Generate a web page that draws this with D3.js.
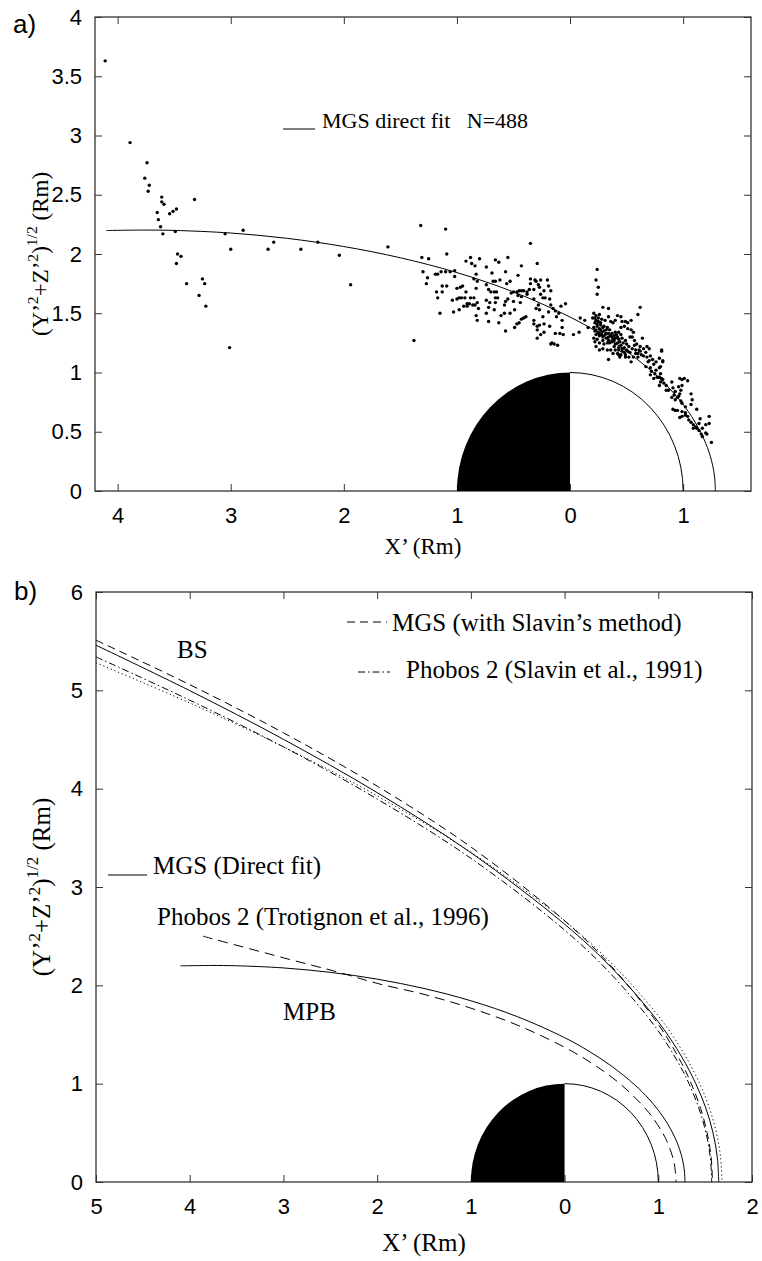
<!DOCTYPE html>
<html>
<head>
<meta charset="utf-8">
<script src="https://cdn.jsdelivr.net/npm/d3@7"></script>
<style>
body { margin: 0; background: #fff; }
.tick text { font-family: "Liberation Sans", Arial, sans-serif; font-size: 22px; fill: #000; }
.serif { font-family: "Liberation Serif", "Times New Roman", serif; fill: #000; }
.sans { font-family: "Liberation Sans", Arial, sans-serif; fill: #000; }
</style>
</head>
<body>
<div id="chart"></div>
<script>
// Datos (X', (Y'^2+Z'^2)^1/2 en Rm)

// cruces MPB de MGS, cola
const crossingsTail = [[-4.11,3.63],[-3.89,2.94],[-3.74,2.77],[-3.76,2.64],[-3.72,2.58],[-3.73,2.53],[-3.61,2.48],[-3.61,2.44],
  [-3.59,2.42],[-3.65,2.35],[-3.54,2.34],[-3.51,2.36],[-3.48,2.38],[-3.64,2.29],[-3.62,2.23],[-3.60,2.17],[-3.49,2.19],
  [-3.32,2.46],[-3.47,2.00],[-3.44,1.98],[-3.48,1.92],[-3.39,1.75],[-3.25,1.79],[-3.23,1.75],[-3.28,1.65],[-3.22,1.56],
  [-3.01,1.21],[-3.05,2.17],[-3.00,2.04],[-2.89,2.20],[-2.67,2.04],[-2.62,2.10],[-2.38,2.04],[-2.23,2.10],[-2.04,1.99],
  [-1.94,1.74],[-1.61,2.06]]

// cruces MPB, flanco
const crossingsFlank = [[-1.32,2.24],[-1.10,2.21],[-1.38,1.27],[-1.09,2.00],[-1.31,1.97],[-1.25,1.96],[-1.30,1.85],[-1.26,1.80],
  [-1.27,1.75],[-1.19,1.83],[-1.17,1.83],[-1.14,1.85],[-1.10,1.85],[-1.06,1.85],[-1.02,1.86],[-1.02,1.81],[-1.13,1.73],
  [-1.09,1.73],[-1.18,1.68],[-1.13,1.68],[-1.17,1.63],[-1.15,1.50],[-1.03,1.51],[-1.00,1.71],[-0.97,1.72],[-0.95,1.73],
  [-0.92,1.68],[-1.04,1.61],[-1.00,1.62],[-0.98,1.63],[-0.96,1.63],[-0.93,1.63],[-0.88,1.63],[-0.85,1.63],[-0.98,1.53],
  [-0.94,1.56],[-0.91,1.58],[-0.89,1.58],[-0.91,1.56],[-0.86,1.57],[-0.84,1.57],[-0.82,1.59],[-0.81,1.54],[-0.83,1.48],
  [-0.82,1.44],[-0.92,1.94],[-0.88,1.97],[-0.87,1.92],[-0.84,1.90],[-0.80,1.96],[-0.83,1.83],[-0.85,1.79],[-0.82,1.77],
  [-0.83,1.71],[-0.74,1.89],[-0.69,1.84],[-0.66,1.95],[-0.74,1.74],[-0.72,1.70],[-0.68,1.77],[-0.66,1.77],[-0.70,1.68],
  [-0.67,1.68],[-0.65,1.68],[-0.66,1.63],[-0.64,1.63],[-0.74,1.61],[-0.71,1.59],[-0.66,1.59],[-0.72,1.55],[-0.67,1.53],
  [-0.74,1.50],[-0.72,1.43],[-0.63,1.42],
  [-0.35,2.09],[-0.55,1.97],[-0.63,1.93],[-0.43,1.90],[-0.29,1.92],[-0.57,1.85],[-0.46,1.82],[-0.62,1.78],[-0.56,1.75],
  [-0.53,1.77],[-0.61,1.48],[-0.58,1.50],[-0.53,1.50],[-0.57,1.35],[-0.52,1.67],[-0.50,1.68],[-0.47,1.68],[-0.45,1.69],
  [-0.43,1.69],[-0.41,1.69],[-0.38,1.68],[-0.36,1.70],[-0.46,1.65],[-0.43,1.64],[-0.38,1.66],[-0.35,1.79],[-0.35,1.75],
  [-0.31,1.78],[-0.30,1.77],[-0.28,1.74],[-0.26,1.78],[-0.27,1.72],[-0.32,1.70],[-0.23,1.69],[-0.20,1.78],[-0.19,1.73],
  [-0.17,1.69],[-0.26,1.66],[-0.24,1.63],[-0.22,1.63],[-0.18,1.62],[-0.55,1.62],[-0.57,1.60],[-0.58,1.57],[-0.50,1.60],
  [-0.44,1.59],[-0.49,1.53],[-0.32,1.62],[-0.28,1.57],[-0.30,1.54],[-0.27,1.53],[-0.19,1.51],[-0.17,1.57],[-0.15,1.54],
  [-0.13,1.52],[-0.10,1.50],[-0.12,1.47],[-0.08,1.56],[-0.04,1.58],[-0.24,1.47],[-0.39,1.47],[-0.41,1.46],[-0.43,1.45],
  [-0.45,1.42],[-0.47,1.41],[-0.49,1.38],[-0.32,1.44],[-0.32,1.41],[-0.29,1.39],[-0.27,1.40],[-0.23,1.41],[-0.18,1.39],
  [-0.29,1.36],[-0.26,1.32],[-0.23,1.34],[-0.29,1.29],[-0.13,1.33],[-0.09,1.33],[-0.06,1.32],[-0.07,1.38],[-0.07,1.44],
  [-0.16,1.25],[-0.17,1.24],[-0.14,1.24],[-0.11,1.23],[0.03,1.32],[0.08,1.34],[0.09,1.46],[0.13,1.44],[0.16,1.38]]

// cruces MPB, nariz
const crossingsNose = [[0.24,1.87],[0.23,1.78],[0.25,1.72],[0.24,1.66],[0.29,1.55],[0.34,1.54],[0.62,1.55],[0.60,1.49],
  [0.21,1.50],[0.23,1.48],[0.26,1.49],[0.20,1.46],[0.23,1.44],[0.25,1.43],[0.22,1.42],[0.27,1.42],[0.21,1.38],[0.24,1.39],
  [0.26,1.37],[0.29,1.38],[0.22,1.35],[0.25,1.34],[0.28,1.34],[0.23,1.32],[0.26,1.31],[0.29,1.30],[0.21,1.29],[0.24,1.28],
  [0.29,1.27],[0.32,1.29],[0.34,1.27],[0.22,1.26],[0.26,1.25],[0.30,1.24],[0.33,1.25],[0.37,1.26],[0.39,1.27],[0.40,1.29],
  [0.31,1.44],[0.34,1.47],[0.36,1.43],[0.38,1.42],[0.40,1.44],[0.42,1.48],[0.45,1.47],[0.46,1.43],[0.49,1.43],[0.51,1.42],
  [0.54,1.44],[0.48,1.39],[0.51,1.37],[0.54,1.36],[0.56,1.34],[0.45,1.38],[0.43,1.34],[0.40,1.34],[0.37,1.33],[0.35,1.36],
  [0.33,1.38],[0.32,1.33],[0.34,1.30],[0.37,1.30],[0.42,1.30],[0.45,1.32],[0.46,1.29],[0.49,1.27],[0.53,1.30],[0.57,1.27],
  [0.42,1.25],[0.45,1.23],[0.46,1.20],[0.43,1.19],[0.42,1.16],[0.45,1.15],[0.48,1.17],[0.51,1.18],[0.39,1.22],[0.36,1.19],
  [0.33,1.19],[0.29,1.20],[0.26,1.19],[0.52,1.22],[0.57,1.23],[0.59,1.24],[0.62,1.22],[0.64,1.29],[0.65,1.20],[0.68,1.22],
  [0.70,1.20],[0.67,1.17],[0.61,1.19],[0.58,1.16],[0.56,1.13],[0.54,1.09],[0.60,1.13],[0.63,1.15],[0.81,1.19],[0.79,1.12],
  [0.82,1.10],[0.71,1.14],[0.73,1.11],[0.69,1.09],[0.67,1.05],[0.71,1.04],[0.76,1.02],[0.79,1.04],[0.80,0.99],[0.77,0.96],
  [0.71,0.98],[0.74,0.95],[0.78,0.96],
  [0.22,1.46],[0.25,1.46],[0.28,1.45],[0.24,1.41],[0.27,1.40],[0.30,1.39],[0.23,1.36],[0.27,1.36],[0.30,1.35],[0.32,1.36],
  [0.25,1.33],[0.28,1.32],[0.31,1.32],[0.34,1.33],[0.36,1.31],[0.39,1.31],[0.41,1.32],[0.43,1.28],[0.38,1.28],[0.35,1.25],
  [0.40,1.24],[0.44,1.26],[0.47,1.25],[0.50,1.24],[0.48,1.21],[0.43,1.21],[0.46,1.18],[0.50,1.19],[0.53,1.17],[0.40,1.19],
  [0.38,1.16],[0.44,1.13],[0.49,1.15],[0.55,1.20],[0.58,1.19],[0.52,1.13],[0.60,1.16],[0.62,1.18],[0.65,1.14],[0.68,1.13],
  [0.70,1.10],[0.74,1.07],[0.76,1.09],[0.72,1.01],[0.75,0.99],[0.34,1.11],[0.43,1.15],[0.49,1.13],[0.23,1.22],[0.55,1.30],
  [0.81,1.18],[0.82,1.09],[0.80,1.05],[0.79,0.96],[0.81,0.95],[0.82,0.94],[0.80,0.92],[0.83,0.91],[0.85,0.89],[0.79,0.89],
  [0.90,0.92],[0.87,0.85],[0.85,0.85],[0.91,0.87],[0.93,0.84],[0.92,0.81],[0.90,0.79],[0.95,0.79],[0.93,0.77],[0.96,0.80],
  [0.97,0.82],[0.98,0.85],[0.96,0.88],[0.99,0.89],[0.99,0.94],[0.97,0.95],[1.01,0.95],[1.04,0.93],[0.98,0.76],[0.99,0.74],
  [1.02,0.71],[1.07,0.73],[1.08,0.77],[1.07,0.82],[1.04,0.63],[1.02,0.66],[0.99,0.67],[1.02,0.64],[0.99,0.63],[0.97,0.62],
  [0.93,0.68],[0.91,0.69],[0.95,0.68],[1.12,0.69],[1.05,0.60],[1.07,0.58],[1.09,0.56],[1.11,0.54],[1.12,0.53],[1.09,0.53],
  [1.14,0.57],[1.15,0.61],[1.17,0.53],[1.20,0.56],[1.23,0.63],[1.23,0.57],[1.21,0.48],[1.14,0.51],[1.16,0.48],[1.17,0.46],
  [1.25,0.41],[1.20,0.49]]

// MPB, ajuste directo MGS
const mpbFitX = [-4.1, -3.77, -3.5, -3, -2.5, -2, -1.5, -1, -0.5, 0, 0.25, 0.5, 0.75, 0.9, 1, 1.1, 1.2, 1.25, 1.27, 1.28, 1.285]
const mpbFitY = [2.198, 2.202, 2.199, 2.177, 2.132, 2.063, 1.968, 1.843, 1.68, 1.468, 1.336, 1.179, 0.987, 0.844, 0.73, 0.591, 0.403, 0.26, 0.171, 0.1, 0]

// MPB, Phobos 2 (Trotignon et al., 1996)
const mpbPhobosX = [-3.86, -3.0, -2.4, -2.0, -1.5, -1.0, -0.5, 0, 0.3, 0.6, 0.9, 1.05, 1.1, 1.15, 1.175, 1.19]
const mpbPhobosY = [2.5, 2.28, 2.13, 2.02, 1.908, 1.768, 1.594, 1.37, 1.202, 0.992, 0.705, 0.493, 0.396, 0.265, 0.162, 0]

// BS, ajuste directo MGS
const bsFitX = [-5, -4, -3, -2, -1, 0, 0.5, 1, 1.25, 1.4, 1.508, 1.584, 1.63, 1.645]
const bsFitY = [5.459, 4.997, 4.502, 3.96, 3.349, 2.622, 2.18, 1.63, 1.273, 1.0, 0.75, 0.5, 0.25, 0]

// BS, MGS con el metodo de Slavin
const bsSlavinX = [-5, -4, -3, -2, -1, 0, 0.5, 1, 1.25, 1.352, 1.451, 1.521, 1.564, 1.578]
const bsSlavinY = [5.51, 5.058, 4.568, 4.026, 3.407, 2.657, 2.193, 1.603, 1.206, 1.0, 0.75, 0.5, 0.25, 0]

// BS, Phobos 2 (Slavin et al., 1991)
const bsPhobosX = [-5, -4, -3, -2, -1, 0, 0.5, 1, 1.25, 1.328, 1.433, 1.509, 1.555, 1.57]
const bsPhobosY = [5.34, 4.90, 4.425, 3.895, 3.292, 2.562, 2.11, 1.536, 1.15, 1.0, 0.75, 0.5, 0.25, 0]

// BS, punteada
const bsDottedX = [-5, -4, -3, -2, -1, 0, 0.5, 1, 1.25, 1.442, 1.546, 1.62, 1.665, 1.68]
const bsDottedY = [5.28, 4.872, 4.426, 3.927, 3.353, 2.656, 2.226, 1.69, 1.344, 1.0, 0.75, 0.5, 0.25, 0]

const ticksXA = [-4, -3, -2, -1, 0, 1]
const ticksYA = [0, 0.5, 1, 1.5, 2, 2.5, 3, 3.5, 4]
const ticksXB = [-5, -4, -3, -2, -1, 0, 1, 2]
const ticksYB = [0, 1, 2, 3, 4, 5, 6]

// Constantes

const width = 762
const height = 1261
const panelA = {left: 95, right: 751, top: 17, bottom: 491}
const panelB = {left: 96, right: 752, top: 592, bottom: 1182}

const svg = d3.select("#chart").append("svg").attr("width", width).attr("height", height)
const groupA = svg.append("g").attr("id", "panelA")
const groupB = svg.append("g").attr("id", "panelB")

// Escalas

const xA = d3.scaleLinear().domain([-4.2, 1.6]).range([panelA.left, panelA.right])
const yA = d3.scaleLinear().domain([0, 4]).range([panelA.bottom, panelA.top])
const xB = d3.scaleLinear().domain([-5, 2]).range([panelB.left, panelB.right])
const yB = d3.scaleLinear().domain([0, 6]).range([panelB.bottom, panelB.top])

// Marco y ejes (ticks hacia dentro en los cuatro lados)

function drawFrame(g, x, y, p, xTicks, yTicks) {
    const t = 7
    g.append("g").attr("transform", `translate(0,${p.bottom})`)
        .call(d3.axisBottom(x).tickValues(xTicks).tickSize(-t).tickSizeOuter(0).tickPadding(16).tickFormat(d => Math.abs(d)))
    g.append("g").attr("transform", `translate(0,${p.top})`)
        .call(d3.axisTop(x).tickValues(xTicks).tickSize(-t).tickSizeOuter(0).tickFormat(""))
    g.append("g").attr("transform", `translate(${p.left},0)`)
        .call(d3.axisLeft(y).tickValues(yTicks).tickSize(-t).tickSizeOuter(0).tickPadding(13).tickFormat(d => d))
    g.append("g").attr("transform", `translate(${p.right},0)`)
        .call(d3.axisRight(y).tickValues(yTicks).tickSize(-t).tickSizeOuter(0).tickFormat(""))
    g.selectAll(".domain").remove()
    g.selectAll(".tick line").attr("stroke", "#333")
    g.append("rect")
        .attr("x", p.left).attr("y", p.top)
        .attr("width", p.right - p.left).attr("height", p.bottom - p.top)
        .attr("fill", "none").attr("stroke", "#333").attr("stroke-width", 1.3)
}

// Marte: lado nocturno negro, lado diurno blanco

function drawPlanet(g, x, y) {
    const rx = x(1) - x(0)
    const ry = y(0) - y(1)
    g.append("path")
        .attr("d", `M${x(0)},${y(0)} L${x(0)},${y(1)} A${rx},${ry} 0 0 0 ${x(-1)},${y(0)} Z`)
        .attr("fill", "black")
    g.append("path")
        .attr("d", `M${x(0)},${y(1)} A${rx},${ry} 0 0 1 ${x(1)},${y(0)}`)
        .attr("fill", "none").attr("stroke", "black").attr("stroke-width", 1)
}

function yLabel(g, cx, cy, size) {
    const t = g.append("text").attr("class", "serif")
        .attr("transform", `translate(${cx},${cy}) rotate(-90)`)
        .attr("text-anchor", "middle").style("font-size", size + "px")
    const s = size * 0.68
    t.append("tspan").text("(Y\u2019")
    t.append("tspan").attr("dy", -size * 0.42).style("font-size", s + "px").text("2")
    t.append("tspan").attr("dy", size * 0.42).text("+Z\u2019")
    t.append("tspan").attr("dy", -size * 0.42).style("font-size", s + "px").text("2")
    t.append("tspan").attr("dy", size * 0.42).text(")")
    t.append("tspan").attr("dy", -size * 0.5).style("font-size", s + "px").text("1/2")
    t.append("tspan").attr("dy", size * 0.5).text(" (Rm)")
}

// ---------- Panel a ----------

drawFrame(groupA, xA, yA, panelA, ticksXA, ticksYA)

const allCrossings = crossingsTail.concat(crossingsFlank, crossingsNose)
groupA.append("g").selectAll("circle").data(allCrossings)
    .join("circle")
        .attr("cx", d => xA(d[0]))
        .attr("cy", d => yA(d[1]))
        .attr("r", 1.7)
        .attr("fill", "black")

const lineA = d3.line().x(d => xA(d[0])).y(d => yA(d[1])).curve(d3.curveCatmullRom.alpha(0.5))
groupA.append("path").datum(d3.zip(mpbFitX, mpbFitY))
    .attr("d", lineA).attr("fill", "none").attr("stroke", "black").attr("stroke-width", 1)

drawPlanet(groupA, xA, yA)

groupA.append("line").attr("x1", 283).attr("x2", 315).attr("y1", 129).attr("y2", 129)
    .attr("stroke", "black").attr("stroke-width", 1)
groupA.append("text").attr("class", "serif").attr("x", 322).attr("y", 128)
    .attr("xml:space", "preserve").style("font-size", "22px").text("MGS direct fit   N=488")

groupA.append("text").attr("class", "sans").attr("x", 13).attr("y", 33).style("font-size", "26px").text("a)")
groupA.append("text").attr("class", "serif").attr("x", (panelA.left + panelA.right) / 2).attr("y", 554)
    .attr("text-anchor", "middle").style("font-size", "23px").text("X\u2019 (Rm)")
yLabel(groupA, 48, (panelA.top + panelA.bottom) / 2, 23)

// ---------- Panel b ----------

drawFrame(groupB, xB, yB, panelB, ticksXB, ticksYB)

const lineB = d3.line().x(d => xB(d[0])).y(d => yB(d[1])).curve(d3.curveCatmullRom.alpha(0.5))

const curvesB = [
    {x: bsFitX, y: bsFitY, dash: null},
    {x: bsSlavinX, y: bsSlavinY, dash: "8,5"},
    {x: bsPhobosX, y: bsPhobosY, dash: "7,3,1.5,3"},
    {x: bsDottedX, y: bsDottedY, dash: "1.2,2.8"},
    {x: mpbFitX, y: mpbFitY, dash: null},
    {x: mpbPhobosX, y: mpbPhobosY, dash: "10,6"}
]

groupB.append("clipPath").attr("id", "clipB").append("rect")
    .attr("x", panelB.left).attr("y", panelB.top)
    .attr("width", panelB.right - panelB.left).attr("height", panelB.bottom - panelB.top)

groupB.append("g").attr("clip-path", "url(#clipB)").selectAll("path").data(curvesB)
    .join("path")
        .attr("d", c => lineB(d3.zip(c.x, c.y)))
        .attr("fill", "none")
        .attr("stroke", "black")
        .attr("stroke-width", 1)
        .attr("stroke-dasharray", c => c.dash)

drawPlanet(groupB, xB, yB)

// leyendas
groupB.append("line").attr("x1", 347).attr("x2", 387).attr("y1", 622).attr("y2", 622)
    .attr("stroke", "black").attr("stroke-dasharray", "8,5")
groupB.append("text").attr("class", "serif").attr("x", 392).attr("y", 631).style("font-size", "25px")
    .text("MGS (with Slavin\u2019s method)")
groupB.append("line").attr("x1", 358).attr("x2", 390).attr("y1", 672).attr("y2", 672)
    .attr("stroke", "black").attr("stroke-dasharray", "7,3,1.5,3")
groupB.append("text").attr("class", "serif").attr("x", 406).attr("y", 678).style("font-size", "25px")
    .text("Phobos 2 (Slavin et al., 1991)")
groupB.append("line").attr("x1", 108).attr("x2", 147).attr("y1", 875).attr("y2", 875)
    .attr("stroke", "black")
groupB.append("text").attr("class", "serif").attr("x", 153).attr("y", 874).style("font-size", "25px")
    .text("MGS (Direct fit)")
groupB.append("text").attr("class", "serif").attr("x", 157).attr("y", 925).style("font-size", "25px")
    .text("Phobos 2 (Trotignon et al., 1996)")
groupB.append("text").attr("class", "serif").attr("x", 177).attr("y", 658).style("font-size", "25px").text("BS")
groupB.append("text").attr("class", "serif").attr("x", 283).attr("y", 1020).style("font-size", "25px").text("MPB")

groupB.append("text").attr("class", "sans").attr("x", 14).attr("y", 600).style("font-size", "26px").text("b)")
groupB.append("text").attr("class", "serif").attr("x", (panelB.left + panelB.right) / 2).attr("y", 1251)
    .attr("text-anchor", "middle").style("font-size", "25px").text("X\u2019 (Rm)")
yLabel(groupB, 50, (panelB.top + panelB.bottom) / 2, 25)
</script>
</body>
</html>
